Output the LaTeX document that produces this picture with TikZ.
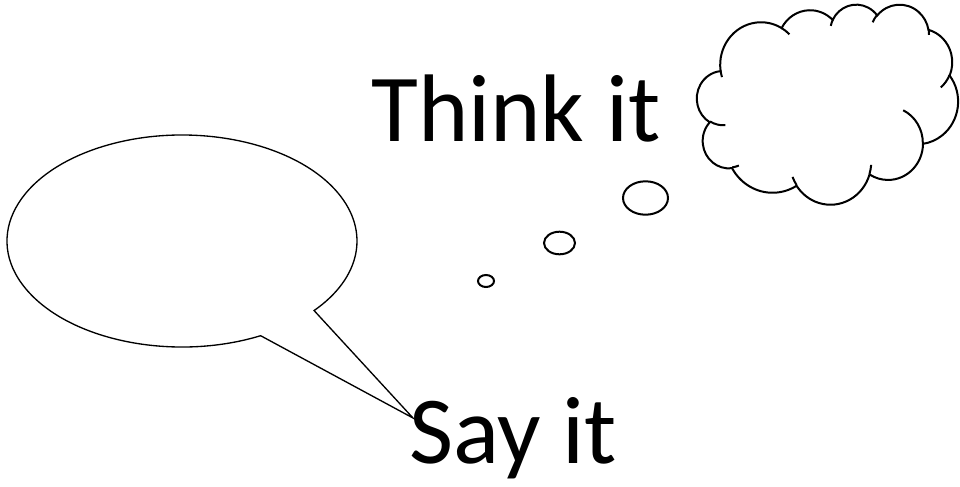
\documentclass[tikz,border=0pt]{standalone}
\usepackage{fontspec}
\setmainfont{Carlito}
\usetikzlibrary{calc}
% angles of an OOXML arcTo (visual angles -> parametric angles)
\newcommand\ooang[5]{%
  \pgfmathsetmacro\ooa{atan2((#2)*sin(#4),(#3)*cos(#4))}%
  \pgfmathsetmacro\oob{atan2((#2)*sin((#4)+(#5)),(#3)*cos((#4)+(#5)))}%
  \pgfmathsetmacro\ood{mod(\oob-\ooa+720,360)}%
  \pgfmathsetmacro\oob{\ooa+\ood}%
  \expandafter\xdef\csname oos#1\endcsname{\ooa}%
  \expandafter\xdef\csname ooe#1\endcsname{\oob}%
}
\ooang{A}{67.53}{91.90}{-190.48748}{123.78053}
\ooang{B}{53.33}{72.67}{-144.10238}{89.94523}
\ooang{C}{43.65}{59.45}{-145.80792}{99.72302}
\ooang{D}{48.57}{65.95}{-130.98607}{117.24173}
\ooang{E}{53.33}{72.73}{-78.70888}{109.02692}
\ooang{F}{67.75}{92.20}{-46.26725}{130.269}
\ooang{G}{57.85}{78.67}{0.62502}{114.03333}
\ooang{H}{67.52}{92.15}{22.4516}{115.17255}
\ooang{I}{77.20}{105.43}{66.24263}{75.71102}
\ooang{J}{43.60}{59.18}{-274.94208}{146.73557}
\ooang{K}{43.45}{59.45}{-246.8285}{152.51885}
\ooang{a}{43.45}{59.45}{86.742}{26.4295}
\ooang{b}{43.60}{59.18}{73.61047}{11.44747}
\ooang{c}{67.52}{92.15}{137.62415}{14.0811}
\ooang{d}{67.52}{92.15}{6.45327}{15.99835}
\ooang{e}{57.85}{78.67}{-70.29235}{70.91737}
\ooang{f}{53.33}{72.73}{30.31803}{27.7515}
\ooang{g}{48.57}{65.95}{-13.74433}{14.8589}
\ooang{h}{48.57}{65.95}{-149.18145}{18.19537}
\ooang{i}{43.65}{59.45}{-163.49427}{19.50558}
\ooang{j}{67.53}{91.90}{-66.70695}{12.31935}
\ooang{k}{67.53}{91.90}{157.65435}{11.85817}
\tikzset{
  speechline/.style={draw=black, line width=1pt, line join=miter},
  cloudline/.style={draw=black, line width=1.5pt},
  bigtext/.style={inner sep=0pt, font=\fontsize{72}{86}\selectfont, text=black},
}
\begin{document}
\begin{tikzpicture}[x=0.75pt, y=-0.75pt]
\useasboundingbox (0,0) rectangle (960,486);
\fill[white] (0,0) rectangle (960,486);

% speech bubble
\coordinate (sc) at (182,241);
\coordinate (tip) at (413,418);
\draw[speechline] (tip) -- ($(sc)+(63.3:175 and 106)$)
  arc[start angle=63.3, end angle=401, x radius=175, y radius=106] -- cycle;

% thought cloud
\begin{scope}[shift={(697,4)}, xscale=261/432, yscale=200/432]
\draw[cloudline] (39.00,143.70)
  arc[start angle=\oosA, end angle=\ooeA, x radius=67.53, y radius=91.90]
  arc[start angle=\oosB, end angle=\ooeB, x radius=53.33, y radius=72.67]
  arc[start angle=\oosC, end angle=\ooeC, x radius=43.65, y radius=59.45]
  arc[start angle=\oosD, end angle=\ooeD, x radius=48.57, y radius=65.95]
  arc[start angle=\oosE, end angle=\ooeE, x radius=53.33, y radius=72.73]
  arc[start angle=\oosF, end angle=\ooeF, x radius=67.75, y radius=92.20]
  arc[start angle=\oosG, end angle=\ooeG, x radius=57.85, y radius=78.67]
  arc[start angle=\oosH, end angle=\ooeH, x radius=67.52, y radius=92.15]
  arc[start angle=\oosI, end angle=\ooeI, x radius=77.20, y radius=105.43]
  arc[start angle=\oosJ, end angle=\ooeJ, x radius=43.60, y radius=59.18]
  arc[start angle=\oosK, end angle=\ooeK, x radius=43.45, y radius=59.45]
  -- cycle;
\draw[cloudline]
  (46.93,261.77) arc[start angle=\oosa, end angle=\ooea, x radius=43.45, y radius=59.45]
  (69.28,348.99) arc[start angle=\oosb, end angle=\ooeb, x radius=43.60, y radius=59.18]
  (164.78,390.90) arc[start angle=\oosc, end angle=\ooec, x radius=67.52, y radius=92.15]
  (288.27,347.51) arc[start angle=\oosd, end angle=\ooed, x radius=67.52, y radius=92.15]
  (341.29,229.54) arc[start angle=\oose, end angle=\ooee, x radius=57.85, y radius=78.67]
  (417.98,153.54) arc[start angle=\oosf, end angle=\ooef, x radius=53.33, y radius=72.73]
  (383.24,54.26) arc[start angle=\oosg, end angle=\ooeg, x radius=48.57, y radius=65.95]
  (290.78,39.52) arc[start angle=\oosh, end angle=\ooeh, x radius=48.57, y radius=65.95]
  (221.41,47.20) arc[start angle=\oosi, end angle=\ooei, x radius=43.65, y radius=59.45]
  (140.00,51.92) arc[start angle=\oosj, end angle=\ooej, x radius=67.53, y radius=91.90]
  (41.27,157.89) arc[start angle=\oosk, end angle=\ooek, x radius=67.53, y radius=91.90];
\end{scope}

% thought bubbles
\coordinate (b1) at (645.5,198);
\coordinate (b2) at (559.5,243);
\coordinate (b3) at (486,281);
\draw[cloudline] (b1) ellipse [x radius=22.5, y radius=16.7];
\draw[cloudline] (b2) ellipse [x radius=15.5, y radius=11.3];
\draw[cloudline] (b3) ellipse [x radius=8, y radius=6];

% texts
\node[bigtext, anchor=base west] (think) at (371,141.7) {Think it};
\node[bigtext, anchor=base west] (say) at (409,463) {Say it};
\end{tikzpicture}
\end{document}
